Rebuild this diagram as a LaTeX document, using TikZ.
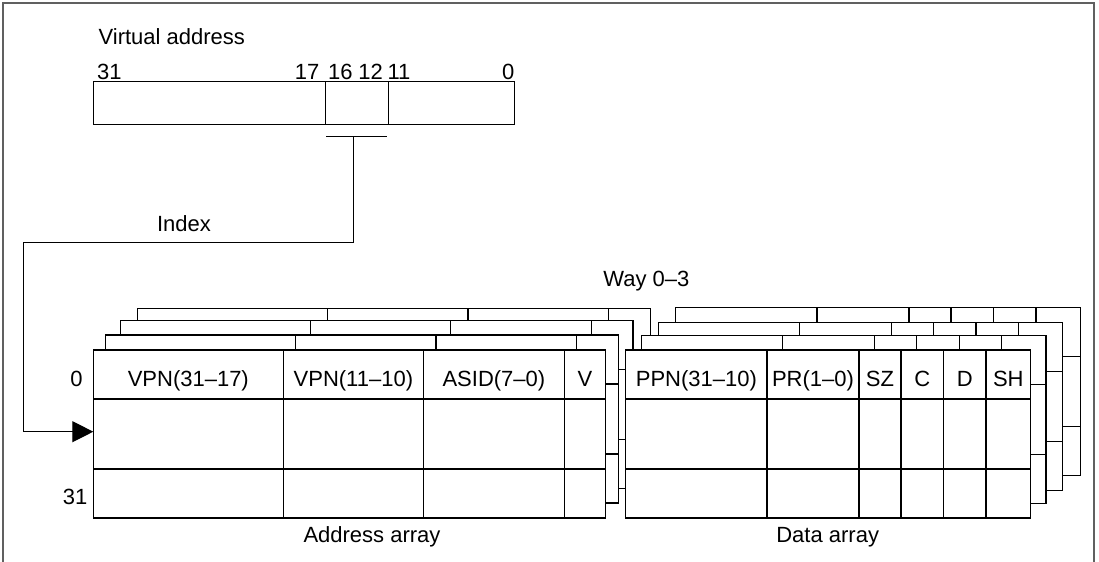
\documentclass[tikz,border=0pt]{standalone}
\usepackage{fontspec}
\setmainfont{Liberation Sans}
\usetikzlibrary{arrows.meta}
\definecolor{framegray}{RGB}{96,96,96}

\begin{document}
\begin{tikzpicture}[x=0.5pt, y=-0.5pt, line width=0.6pt,
    every node/.style={font=\fontsize{11}{13}\selectfont, inner sep=0pt},
    lbl/.style={anchor=base},
    idxline/.style={-{Triangle[length=10.5pt, width=10.5pt]}}]
\useasboundingbox (0,0) rectangle (1099,562);

% Frame
\draw[framegray, line width=0.9pt] (3.3,562) -- (3.3,2.7) -- (1094.3,2.7) -- (1094.3,562);

% Virtual address
\node[anchor=base west] (vatitle) at (98,44) {Virtual address};
\draw (93.5,81.4) rectangle (514.6,124.5);
\draw (325.1,81.4) -- (325.1,124.5) (388.3,81.4) -- (388.3,124.5);
\node[anchor=base west] (b31) at (96.5,79) {31};
\node[anchor=base east] (b17) at (320,79) {17};
\node[anchor=base west] (b16) at (327.5,79) {16};
\node[anchor=base east] (b12) at (383.5,79) {12};
\node[anchor=base west] (b11) at (387,79) {11};
\node[anchor=base east] (b0) at (515,79) {0};

% Index
\draw (326.2,136.8) -- (386.9,136.8);
\coordinate (idx) at (353.3,136.8);
\coordinate (bend) at (23.3,242.3);
\coordinate (row) at (93.3,431.7);
\draw[idxline] (idx) |- (bend) |- (row);
\node[lbl] (index) at (184,231.7) {Index};

% Address array, way 3 down to way 0
\foreach \dx/\dy in {44.5/-41.7, 27.2/-29.7, 12.5/-15, 0/0} {
  \begin{scope}[shift={(\dx,\dy)}]
    \filldraw[fill=white] (93.3,350) rectangle (605.7,518);
    \draw (93.3,399) -- (605.7,399) (93.3,469) -- (605.7,469);
    \foreach \c in {283.2, 423.5, 564.2}
      \draw (\c,350) -- (\c,518);
  \end{scope}
}
\foreach \x/\txt [count=\i] in {188.3/VPN(31--17), 353.4/VPN(11--10), 493.9/ASID(7--0), 585/V}
  \node[lbl] (addr\i) at (\x,386) {\txt};
\node[anchor=base east] (row0) at (83.3,386) {0};
\node[anchor=base east] (row31) at (88,504) {31};
\node[lbl] (addrcap) at (372,542) {Address array};

% Data array, way 3 down to way 0
\foreach \dx/\dy in {50/-42.5, 32.3/-27.5, 15.5/-14.5, 0/0} {
  \begin{scope}[shift={(\dx,\dy)}]
    \filldraw[fill=white] (625.8,350) rectangle (1030.5,518);
    \draw (625.8,399) -- (1030.5,399) (625.8,469) -- (1030.5,469);
    \foreach \c in {767, 859, 901, 943.6, 986}
      \draw (\c,350) -- (\c,518);
  \end{scope}
}
\foreach \x/\txt [count=\i] in {696.4/PPN(31--10), 813/PR(1--0), 880/SZ, 922.3/C, 964.8/D, 1008.3/SH}
  \node[lbl] (data\i) at (\x,386) {\txt};
\node[lbl] (datacap) at (827.7,542) {Data array};

% Ways
\node[lbl] (way) at (646.4,286.7) {Way 0--3};
\end{tikzpicture}
\end{document}
